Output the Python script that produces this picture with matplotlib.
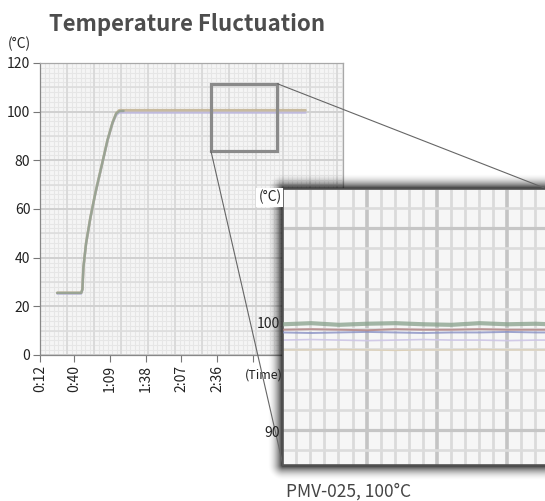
import numpy as np
import matplotlib
matplotlib.use("Agg")
import matplotlib.pyplot as plt
from matplotlib.patches import Rectangle, ConnectionPatch

plt.rcParams['font.family'] = ['Noto Sans CJK KR', 'DejaVu Sans']

# ---------------- data ----------------
title = "Temperature Fluctuation"
subtitle = "PMV-025, 100°C"
tick_seconds = [12, 40, 69, 98, 127, 156, 185]
tick_labels = ["0:12", "0:40", "1:09", "1:38", "2:07", "2:36", ""]
y_ticks = [0, 20, 40, 60, 80, 100, 120]

# main chart series (time in seconds, temperature in °C)
time_a = [26, 45.5, 46.5, 47.3, 49.5, 53, 57, 62, 67, 71, 74, 76.5, 228]
temp_tan = [25.6, 25.6, 27, 36, 46, 56.5, 66.5, 77.5, 88.5, 95.5, 99.4, 100.6, 100.6]
temp_lav = [25.2, 25.2, 26.6, 35.6, 45.6, 56, 66, 77, 88, 95, 98.6, 99.6, 99.6]
time_rise = [26, 45.5, 46.5, 47.3, 49.5, 53, 57, 62, 67, 71, 74, 76.5, 80]
temp_rise = [25.5, 25.5, 27, 36, 46, 56.5, 66.5, 77.5, 88.5, 95.5, 99.2, 100.2, 100.3]

# zoomed region (main chart coordinates)
zoom_t = [151, 205]
zoom_temp = [84, 111.5]

# inset series
inset_x = [0, 2, 4, 6, 8, 10, 12, 14, 16, 18, 19]
inset_green = [99.8, 99.9, 99.75, 99.85, 99.9, 99.8, 99.75, 99.9, 99.8, 99.85, 99.8]
inset_red = [99.3, 99.35, 99.3, 99.25, 99.35, 99.3, 99.3, 99.35, 99.3, 99.3, 99.3]
inset_blue = [99.05, 99.0, 99.05, 99.1, 99.05, 99.0, 99.05, 99.05, 99.1, 99.05, 99.05]
inset_lav = [98.35, 98.4, 98.35, 98.3, 98.35, 98.4, 98.35, 98.35, 98.3, 98.35, 98.35]
inset_tan = [97.45, 97.45, 97.5, 97.45, 97.4, 97.45, 97.45, 97.5, 97.45, 97.45, 97.45]
inset_yticks = [90, 100]

# ---------------- figure ----------------
W, H = 545, 501
fig = plt.figure(figsize=(W / 100, H / 100), dpi=100)
fig.patch.set_facecolor("white")

def fx(px):
    return px / W

def fy(py):
    return 1 - py / H

# main axes
ax = fig.add_axes([fx(40), fy(355), fx(343) - fx(40), fy(63) - fy(355)], zorder=0)
ax.set_facecolor("#f5f5f5")
ax.set_xlim(12, 258.5)
ax.set_ylim(0, 120)

# fine background grid
for v in np.arange(12, 258.5, 22 / 6):
    ax.axvline(v, color="#e6e6e6", lw=0.8, zorder=0)
for v in np.arange(0, 120, 2):
    ax.axhline(v, color="#e6e6e6", lw=0.8, zorder=0)
for v in np.arange(12, 258.5, 22):
    ax.axvline(v, color="#d9d9d9", lw=1.3, zorder=0)
for v in np.arange(0, 121, 10):
    ax.axhline(v, color="#dcdcdc", lw=1.1, zorder=0)
for v in y_ticks:
    ax.axhline(v, color="#d0d0d0", lw=1.3, zorder=0)

ax.plot(time_a, temp_lav, color="#bdb8de", lw=1.6, alpha=0.9, zorder=2,
        solid_joinstyle="round", solid_capstyle="round")
ax.plot(time_a, temp_tan, color="#c4b596", lw=1.9, alpha=0.9, zorder=3,
        solid_joinstyle="round", solid_capstyle="round")
ax.plot(time_rise, temp_rise, color="#95a294", lw=1.7, alpha=0.9, zorder=4,
        solid_joinstyle="round", solid_capstyle="round")

ax.add_patch(Rectangle((zoom_t[0], zoom_temp[0]), zoom_t[1] - zoom_t[0],
                       zoom_temp[1] - zoom_temp[0], fill=False,
                       edgecolor="#8a8a8a", lw=2.3, zorder=6))

ax.set_xticks(tick_seconds)
ax.set_xticklabels(tick_labels, rotation=90, fontsize=10, color="#222222")
ax.set_yticks(y_ticks)
ax.set_yticklabels([str(v) for v in y_ticks], fontsize=10, color="#222222")
ax.tick_params(axis="both", direction="out", length=5, width=0.8,
               color="#777777", pad=2)
for side in ["left", "bottom"]:
    ax.spines[side].set_color("#888888")
    ax.spines[side].set_linewidth(0.9)
for side in ["top", "right"]:
    ax.spines[side].set_color("#a8a8a8")
    ax.spines[side].set_linewidth(0.9)

fig.text(fx(8), fy(44), "(°C)", fontsize=10, color="#222222", va="center",
         ha="left")
fig.text(fx(49), fy(31), title, fontsize=16, fontweight="bold",
         color="#4d4d4d", ha="left", va="baseline")
fig.text(fx(348), fy(497), subtitle, fontsize=12.5, color="#444444",
         ha="center", va="baseline")

# ---------------- shadow ----------------
x0, x1, y0, y1 = 283, 547, 189, 465
jj, ii = np.meshgrid(np.arange(W) + 0.5, np.arange(H) + 0.5)
dx = np.maximum(np.maximum(x0 - jj, 0), jj - x1)
dy = np.maximum(np.maximum(y0 - ii, 0), ii - y1)
d = np.sqrt(dx ** 2 + dy ** 2)
reach = 16.0
alpha = np.where(d < reach, 0.85 * (1 - d / reach) ** 2, 0.0)
rgba = np.zeros((H, W, 4))
rgba[..., 3] = alpha
sax = fig.add_axes([0, 0, 1, 1], zorder=1)
sax.imshow(rgba, extent=(0, W, H, 0), aspect="auto", interpolation="bilinear")
sax.set_xlim(0, W)
sax.set_ylim(H, 0)
sax.axis("off")
sax.patch.set_alpha(0)

# time label drawn above the shadow
fig.text(fx(282.5), fy(375), "(Time)", fontsize=9, color="#222222",
         ha="right", va="center", zorder=2.5)

# ---------------- inset ----------------
axi = fig.add_axes([fx(x0), fy(y1), fx(x1) - fx(x0), fy(y0) - fy(y1)], zorder=3)
axi.set_facecolor("#f6f6f6")
axi.set_xlim(0, 18.8)
axi.set_ylim(86.9, 112.2)

for k in range(19):
    major = k in (5, 10, 15)
    axi.axvline(0.95 + k, color="#c4c4c4" if major else "#dadada",
                lw=2.6 if major else 2.0, zorder=0)
for k in range(-2, 14):
    major = k in (0, 10)
    axi.axhline(90.1 + k * 1.85, color="#c6c6c6" if major else "#dcdcdc",
                lw=2.3 if major else 1.9, zorder=0)

axi.plot(inset_x, inset_tan, color="#ddd0b6", lw=1.0, alpha=0.9, zorder=2)
axi.plot(inset_x, inset_lav, color="#cdc6e6", lw=1.2, alpha=0.9, zorder=2)
axi.plot(inset_x, inset_blue, color="#8890c4", lw=1.4, alpha=0.8, zorder=3)
axi.plot(inset_x, inset_red, color="#b08080", lw=1.4, alpha=0.8, zorder=3)
axi.plot(inset_x, inset_green, color="#86a08a", lw=3.0, alpha=0.75, zorder=4)

axi.set_xticks([])
axi.set_yticks(inset_yticks)
axi.set_yticklabels([str(v) for v in inset_yticks], fontsize=10,
                    color="#222222")
axi.tick_params(axis="y", length=0, pad=2)
for side in ["left", "top", "bottom", "right"]:
    axi.spines[side].set_color("#555555")
    axi.spines[side].set_linewidth(1.2)
axi.text(-0.006, 0.97, "(°C)", transform=axi.transAxes, ha="right",
         va="center", fontsize=10, color="#222222",
         bbox=dict(boxstyle="square,pad=0.15", fc="white", ec="none"))

# connector lines
for (xa, ya), (xb, yb) in [((zoom_t[1], zoom_temp[1]), (1, 1)),
                           ((zoom_t[0], zoom_temp[0]), (0, 0))]:
    con = ConnectionPatch(xyA=(xa, ya), coordsA=ax.transData,
                          xyB=(xb, yb), coordsB=axi.transAxes,
                          color="#666666", lw=0.8, zorder=2.6)
    fig.add_artist(con)

fig.savefig("out.png", dpi=100)
